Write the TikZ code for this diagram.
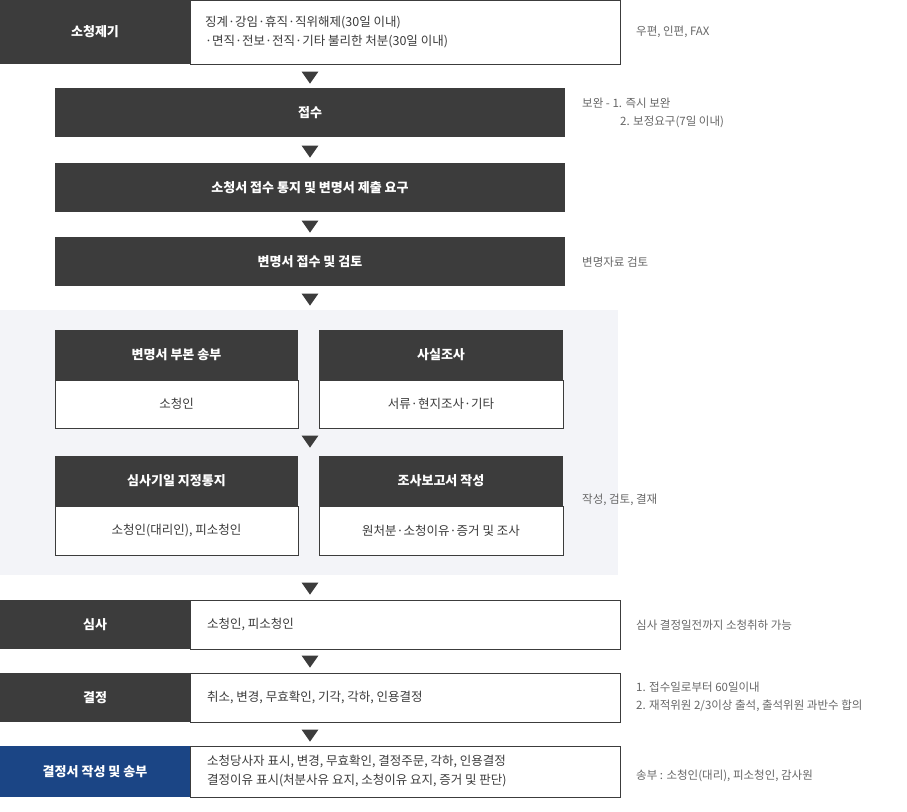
\documentclass[tikz,border=0pt]{standalone}
\usepackage{fontspec}
\setmainfont{Noto Sans CJK KR}
\usetikzlibrary{shapes.geometric}
\definecolor{dk}{HTML}{3C3C3C}
\definecolor{nv}{HTML}{1B4585}
\definecolor{bg}{HTML}{F3F4F8}
\definecolor{nt}{HTML}{666666}
\begin{document}
\begin{tikzpicture}[x=1pt,y=-1pt,
   head/.style={rectangle,fill=dk,text=white,font=\fontsize{13}{16}\selectfont\bfseries,inner sep=0pt},
   body/.style={rectangle,draw=dk,fill=white,text=dk,font=\fontsize{12.5}{19}\selectfont,inner sep=0pt},
   note/.style={anchor=west,text=nt,font=\fontsize{11.5}{18}\selectfont,inner sep=0pt,align=left},
   tri/.style={isosceles triangle,shape border rotate=270,isosceles triangle apex angle=70,fill=dk,minimum size=12pt,inner sep=0pt}
    ]
  \useasboundingbox (0,0) rectangle (907,811);
  \fill[bg] (0,310) rectangle (618,575);

  % -- top row
  \node[head,minimum width=190,minimum height=64] at (95,32) (file) {소청제기};
  \node[body,minimum width=430,minimum height=64] at (405,32) (fileb) {};
  \node[anchor=west,text=dk,font=\fontsize{12.5}{19}\selectfont,align=left,inner sep=0pt] at (205,32) (filet) {징계·강임·휴직·직위해제(30일 이내)\\·면직·전보·전직·기타 불리한 처분(30일 이내)};
  \node[note] at (636,32) (n1) {우편, 인편, FAX};
  \node[tri] at (310,76) (t1) {};

  % -- middle chain
  \node[head,minimum width=510,minimum height=49] at (310,112.5) (rec) {접수};
  \node[note] at (582,103) (n2) {보완 - 1. 즉시 보완};
  \node[note] at (620,122) (n3) {2. 보정요구(7일 이내)};
  \node[tri] at (310,150) (t2) {};
  \node[head,minimum width=510,minimum height=49] at (310,187.5) (noti) {소청서 접수 통지 및 변명서 제출 요구};
  \node[tri] at (310,225) (t3) {};
  \node[head,minimum width=510,minimum height=49] at (310,261.5) (rev) {변명서 접수 및 검토};
  \node[note] at (582,262) (n4) {변명자료 검토};
  \node[tri] at (310,298) (t4) {};

  % -- grey block
  \node[head,minimum width=243,minimum height=50] at (176.5,355) (a1) {변명서 부본 송부};
  \node[body,minimum width=243,minimum height=48] at (176.5,404) (a2) {소청인};
  \node[head,minimum width=244,minimum height=50] at (441,355) (b1) {사실조사};
  \node[body,minimum width=244,minimum height=48] at (441,404) (b2) {서류·현지조사·기타};
  \node[tri] at (310,440) (t5) {};
  \node[head,minimum width=243,minimum height=50] at (176.5,481) (c1) {심사기일 지정통지};
  \node[body,minimum width=243,minimum height=49] at (176.5,530.5) (c2) {소청인(대리인), 피소청인};
  \node[head,minimum width=244,minimum height=50] at (441,481) (d1) {조사보고서 작성};
  \node[body,minimum width=244,minimum height=49] at (441,530.5) (d2) {원처분·소청이유·증거 및 조사};
  \node[note] at (582,500) (n5) {작성, 검토, 결재};
  \node[tri] at (310,587) (t6) {};

  % -- bottom rows
  \node[head,minimum width=190,minimum height=49] at (95,624.5) (exam) {심사};
  \node[body,minimum width=430,minimum height=49] at (405,624.5) (examb) {};
  \node[anchor=west,text=dk,font=\fontsize{12.5}{19}\selectfont,inner sep=0pt] at (207,624.5) (examt) {소청인, 피소청인};
  \node[note] at (636,625) (n6) {심사 결정일전까지 소청취하 가능};
  \node[tri] at (310,660) (t7) {};
  \node[head,minimum width=190,minimum height=49] at (95,697.5) (dec) {결정};
  \node[body,minimum width=430,minimum height=49] at (405,697.5) (decb) {};
  \node[anchor=west,text=dk,font=\fontsize{12.5}{19}\selectfont,inner sep=0pt] at (207,697.5) (dect) {취소, 변경, 무효확인, 기각, 각하, 인용결정};
  \node[note] at (636,697) (n7) {1. 접수일로부터 60일이내\\2. 재적위원 2/3이상 출석, 출석위원 과반수 합의};
  \node[tri] at (310,734) (t8) {};
  \node[head,fill=nv,minimum width=190,minimum height=51] at (95,771.5) (send) {결정서 작성 및 송부};
  \node[body,minimum width=430,minimum height=51] at (405,771.5) (sendb) {};
  \node[anchor=west,text=dk,font=\fontsize{12.5}{19}\selectfont,align=left,inner sep=0pt] at (207,771.5) (sendt) {소청당사자 표시, 변경, 무효확인, 결정주문, 각하, 인용결정\\결정이유 표시(처분사유 요지, 소청이유 요지, 증거 및 판단)};
  \node[note] at (636,776) (n8) {송부 : 소청인(대리), 피소청인, 감사원};
\end{tikzpicture}
\end{document}
